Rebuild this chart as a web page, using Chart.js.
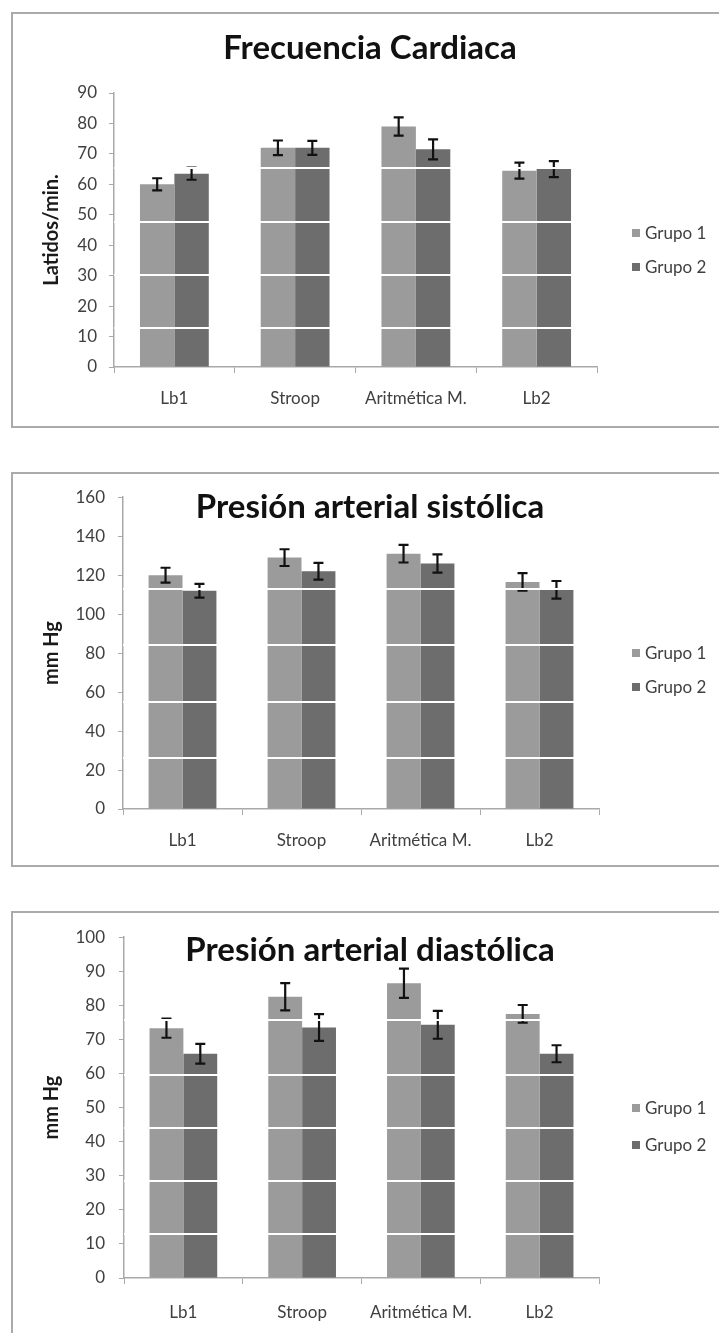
<!DOCTYPE html>
<html>
<head>
<meta charset="utf-8">
<script src="https://cdn.jsdelivr.net/npm/chart.js@4.4.1/dist/chart.umd.min.js"></script>
<style>
  body { margin: 0; background: #fff; width: 719px; height: 1333px; overflow: hidden; position: relative; }
  .frame { position: absolute; left: 11px; width: 760px; box-sizing: border-box; border: 2px solid #ababab; }
  .frame canvas { display: block; }
</style>
</head>
<body>
<div class="frame" style="top:12px;height:416px"><canvas id="fcChart" width="716" height="412"></canvas></div>
<div class="frame" style="top:472px;height:395px"><canvas id="sysChart" width="716" height="391"></canvas></div>
<div class="frame" style="top:911px;height:424px"><canvas id="diaChart" width="716" height="420"></canvas></div>

<script>
const categories = ["Lb1", "Stroop", "Aritmética M.", "Lb2"];
const groupNames = ["Grupo 1", "Grupo 2"];

// Frecuencia cardiaca
const fcGrupo1 = [60, 72, 79, 64.5];
const fcGrupo2 = [63.5, 72, 71.5, 65];
const fcErr1 = [2, 2.4, 3, 2.6];
const fcErr2 = [2, 2.3, 3.3, 2.6];
const fcTicks = [0, 10, 20, 30, 40, 50, 60, 70, 80, 90];

// Presion sistolica
const sysGrupo1 = [120, 129, 131, 116.5];
const sysGrupo2 = [112, 122, 126, 112.5];
const sysErr1 = [3.8, 4.3, 4.5, 4.5];
const sysErr2 = [3.5, 4.3, 4.7, 4.5];
const sysTicks = [0, 20, 40, 60, 80, 100, 120, 140, 160];

// Presion diastolica
const diaGrupo1 = [73.3, 82.5, 86.5, 77.5];
const diaGrupo2 = [65.8, 73.5, 74.3, 65.8];
const diaErr1 = [2.8, 4, 4.3, 2.6];
const diaErr2 = [2.9, 3.9, 4.1, 2.5];
const diaTicks = [0, 10, 20, 30, 40, 50, 60, 70, 80, 90, 100];

// light scan streaks crossing the bars
const fcStreaks = [12.8, 30.2, 47.6, 65.4];
const sysStreaks = [26, 55, 84, 113];
const diaStreaks = [12.8, 28.4, 44.1, 59.7, 75.7];

const colorG1 = "#9b9b9b";
const colorG2 = "#6d6d6d";
const FONT = "Lato, 'Noto Sans', sans-serif";

Chart.defaults.font.family = FONT;
Chart.defaults.color = "#3a3a3a";

const errorBars = {
  id: "errorBars",
  afterDatasetsDraw(chart) {
    const ctx = chart.ctx;
    const y = chart.scales.y;
    ctx.save();
    ctx.strokeStyle = "#111";
    ctx.lineWidth = 2.2;
    chart.data.datasets.forEach((ds, i) => {
      const meta = chart.getDatasetMeta(i);
      meta.data.forEach((bar, j) => {
        const v = ds.data[j];
        const e = ds.errors[j];
        const top = y.getPixelForValue(v + e);
        const bot = y.getPixelForValue(v - e);
        ctx.beginPath();
        ctx.moveTo(bar.x, top);
        ctx.lineTo(bar.x, bot);
        ctx.moveTo(bar.x - 5, top);
        ctx.lineTo(bar.x + 5, top);
        ctx.moveTo(bar.x - 5, bot);
        ctx.lineTo(bar.x + 5, bot);
        ctx.stroke();
      });
    });
    ctx.restore();
  },
};

// title over the plot and legend at the right
const panelText = {
  id: "panelText",
  afterDraw(chart, args, opts) {
    const ctx = chart.ctx;
    ctx.save();
    ctx.fillStyle = "#111";
    ctx.font = "bold 33px " + FONT;
    ctx.textAlign = "center";
    ctx.textBaseline = "middle";
    ctx.fillText(opts.title, 357, opts.titleY);

    ctx.font = "17px " + FONT;
    ctx.textAlign = "left";
    chart.data.datasets.forEach((ds, i) => {
      const ly = opts.legendY[i];
      ctx.fillStyle = ds.backgroundColor;
      ctx.fillRect(619, ly - 4, 8, 8);
      ctx.fillStyle = "#404040";
      ctx.fillText(ds.label, 632, ly + 1);
    });
    ctx.restore();
  },
};

function makeChart(id, cfg) {
  const canvas = document.getElementById(id);
  return new Chart(canvas.getContext("2d"), {
    type: "bar",
    data: {
      labels: categories,
      datasets: [
        { label: groupNames[0], data: cfg.g1, errors: cfg.e1, backgroundColor: colorG1 },
        { label: groupNames[1], data: cfg.g2, errors: cfg.e2, backgroundColor: colorG2 },
      ],
    },
    options: {
      responsive: false,
      animation: false,
      layout: {
        padding: { top: cfg.area.top, right: canvas.width - cfg.area.right, bottom: 0, left: 0 },
      },
      datasets: {
        bar: { categoryPercentage: 0.57, barPercentage: 1.0, borderWidth: 0 },
      },
      plugins: {
        legend: { display: false },
        tooltip: { enabled: false },
        panelText: { title: cfg.title, titleY: cfg.titleY, legendY: cfg.legendY },
      },
      scales: {
        x: {
          afterFit: (s) => { s.height = canvas.height - cfg.area.bottom; },
          border: { color: "#a9a9a9", width: 1.5 },
          grid: { drawOnChartArea: false, tickLength: 6, color: "#a9a9a9" },
          ticks: { font: { size: 17 }, padding: cfg.xPad, color: "#404040" },
        },
        y: {
          min: 0,
          max: cfg.ticks[cfg.ticks.length - 1],
          afterFit: (s) => { s.width = cfg.area.left; },
          afterBuildTicks: (s) => { s.ticks = cfg.ticks.map((v) => ({ value: v })); },
          border: { color: "#a9a9a9", width: 1.5 },
          grid: { drawOnChartArea: false, tickLength: 5, color: "#a9a9a9" },
          ticks: { font: { size: 17 }, padding: cfg.yPad, color: "#404040" },
          title: {
            display: true,
            text: cfg.yTitle,
            font: { size: 20, weight: "bold" },
            color: "#1a1a1a",
            padding: { top: 27, bottom: 0 },
          },
        },
        streak: {
          position: "right",
          min: 0,
          max: cfg.ticks[cfg.ticks.length - 1],
          afterFit: (s) => { s.width = 0; },
          afterBuildTicks: (s) => { s.ticks = cfg.streaks.map((v) => ({ value: v })); },
          border: { display: false },
          ticks: { display: false },
          grid: { color: "#ffffff", lineWidth: 2, drawTicks: false, z: 1 },
        },
      },
    },
    plugins: [errorBars, panelText],
  });
}

makeChart("fcChart", {
  title: "Frecuencia Cardiaca",
  yTitle: "Latidos/min.",
  g1: fcGrupo1, g2: fcGrupo2, e1: fcErr1, e2: fcErr2,
  ticks: fcTicks, streaks: fcStreaks,
  area: { left: 101, right: 584, top: 79, bottom: 353 },
  titleY: 34, legendY: [219, 253], xPad: 15, yPad: 12,
});

makeChart("sysChart", {
  title: "Presión arterial sistólica",
  yTitle: "mm Hg",
  g1: sysGrupo1, g2: sysGrupo2, e1: sysErr1, e2: sysErr2,
  ticks: sysTicks, streaks: sysStreaks,
  area: { left: 110, right: 586, top: 18, bottom: 335 },
  titleY: 33, legendY: [179, 213], xPad: 15, yPad: 13,
});

makeChart("diaChart", {
  title: "Presión arterial diastólica",
  yTitle: "mm Hg",
  g1: diaGrupo1, g2: diaGrupo2, e1: diaErr1, e2: diaErr2,
  ticks: diaTicks, streaks: diaStreaks,
  area: { left: 111, right: 586, top: 20, bottom: 365 },
  titleY: 37, legendY: [195, 232], xPad: 18, yPad: 14,
});
</script>
</body>
</html>
